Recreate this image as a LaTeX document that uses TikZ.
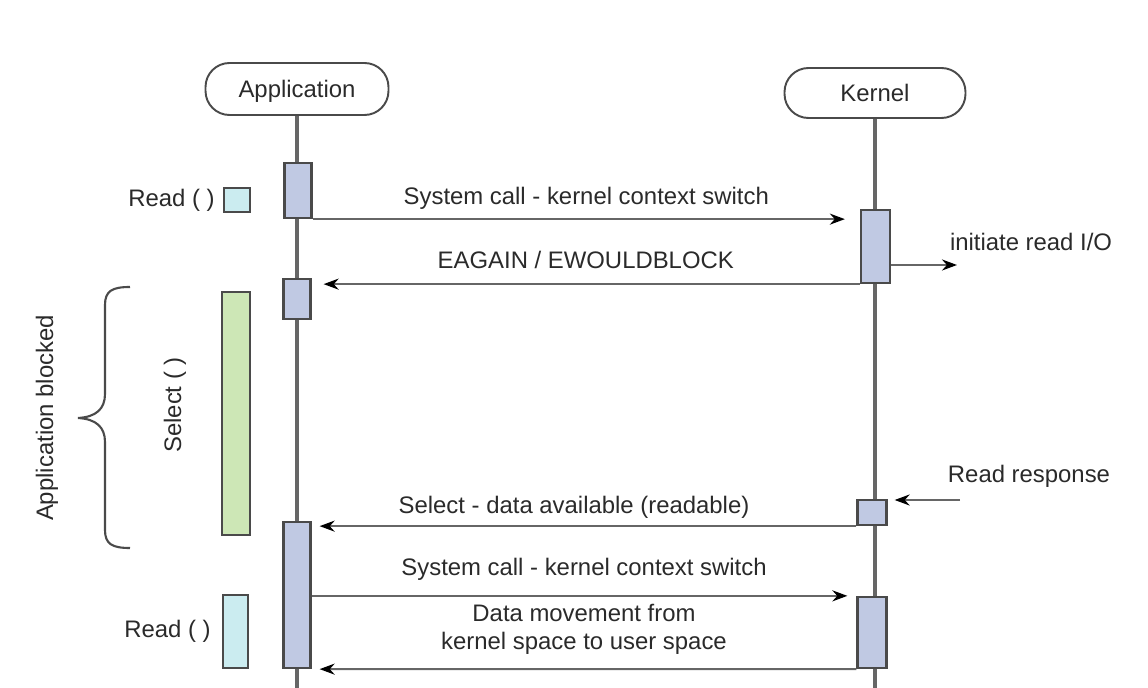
\documentclass[tikz,border=0pt]{standalone}
\usepackage{fontspec}
\setmainfont{Liberation Sans}
\usetikzlibrary{arrows.meta}

\definecolor{actfill}{HTML}{C0C9E3}
\definecolor{readfill}{HTML}{CBECF0}
\definecolor{selfill}{HTML}{CDE7B6}
\definecolor{edgecol}{HTML}{4A4A4A}
\definecolor{lifecol}{HTML}{666666}
\definecolor{txtcol}{HTML}{2A2A2A}

\begin{document}
\begin{tikzpicture}[x=0.02cm,y=-0.02cm,
  font=\fontsize{13.6}{16}\selectfont,
  every node/.style={text=txtcol},
  head/.style={draw=edgecol, line width=1.1pt, rounded corners=0.48cm, minimum width=3.66cm, minimum height=1.04cm, text depth=0pt},
  life/.style={draw=lifecol, line width=1.9pt},
  act/.style={draw=edgecol, fill=actfill, line width=1.3pt, minimum width=0.54cm, inner sep=0pt},
  msg/.style={draw=lifecol, line width=1.2pt, -{Stealth[length=0.3cm,width=0.22cm,black]}},
  lbl/.style={midway, anchor=base}
]
\useasboundingbox (0,0) rectangle (1148,688);

% heads and lifelines
\node[head] (app) at (297,89) {Application};
\node[head, minimum width=3.62cm, minimum height=1.0cm] (kern) at (875,93) {Kernel};
\coordinate (append) at (297,688);
\coordinate (kernend) at (875,688);
\draw[life] (app) -- (append);
\draw[life] (kern) -- (kernend);

% activations
\node[act, minimum height=1.1cm] (a1) at (298,190.5) {};
\node[act, minimum height=0.8cm] (a2) at (297,299) {};
\node[act, minimum height=2.92cm] (a3) at (297,595) {};
\node[act, minimum width=0.58cm, minimum height=1.46cm] (k1) at (875.5,246.5) {};
\node[act, minimum width=0.58cm, minimum height=0.5cm] (k2) at (872,512.5) {};
\node[act, minimum width=0.58cm, minimum height=1.42cm] (k3) at (872,632.5) {};

% calls on the left
\node[act, fill=readfill, minimum width=0.52cm, minimum height=0.48cm] (rd1) at (237,200) {};
\node[anchor=east] (rd1lbl) at ([xshift=-0.04cm]rd1.west) {Read ( )};
\node[act, fill=selfill, minimum width=0.56cm, minimum height=4.86cm] (sel) at (236,413.5) {};
\node[rotate=90] (sellbl) at (175,405) {Select ( )};
\node[act, fill=readfill, minimum width=0.5cm, minimum height=1.46cm] (rd2) at (235.5,631.5) {};
\node[anchor=east] (rd2lbl) at ([xshift=-0.1cm]rd2.west) {Read ( )};

% blocked
\draw[edgecol, line width=1.2pt] (130,287) .. controls (112,287) and (105,291) .. (105,305) -- (105,394)
  .. controls (105,409) and (96,417) .. (78,418) .. controls (96,419) and (105,427) .. (105,442)
  -- (105,530) .. controls (105,544) and (112,548) .. (130,548);
\node[rotate=90] (blk) at (47,418) {Application blocked};

% messages
\draw[msg, shorten >=0.3cm] (a1.south east) -- (k1.west |- a1.south east)
  node[lbl, yshift=8.5pt] (m1) {System call - kernel context switch};
\draw[msg, shorten >=0.24cm] (k1.south west) -- (a2.east |- k1.south west)
  node[lbl, yshift=9pt] (m2) {EAGAIN / EWOULDBLOCK};
\coordinate (io) at (957,265);
\draw[msg] (k1.east |- io) -- (io);
\node (iolbl) at (1031,242) {initiate read I/O};
\coordinate (rr) at (960,500);
\draw[msg, shorten >=0.14cm] (rr) -- (k2.east |- rr);
\node (rrlbl) at (1029,476) {Read response};
\draw[msg, shorten >=0.16cm] (k2.south west) -- (a3.east |- k2.south west)
  node[lbl, yshift=7.2pt, xshift=-0.2cm] (m3) {Select - data available (readable)};
\draw[msg, shorten >=0.18cm] (a3.east |- k3.north) -- (k3.north west)
  node[lbl, yshift=11.4pt] (m4) {System call - kernel context switch};
\draw[msg, shorten >=0.16cm] (k3.south west) -- (a3.south east)
  node[midway, anchor=south, inner sep=0pt, yshift=7.9pt, align=center] (m5) {Data movement from\\kernel space to user space};
\end{tikzpicture}
\end{document}
